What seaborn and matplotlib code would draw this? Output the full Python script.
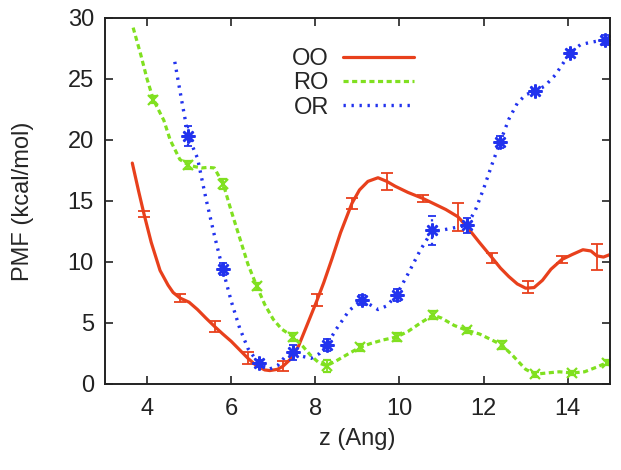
import matplotlib
matplotlib.use("Agg")
import matplotlib.pyplot as plt
import seaborn as sns
from matplotlib.lines import Line2D

# smooth PMF curves
oo_x = [3.65, 3.8, 3.93, 4.1, 4.31, 4.5, 4.62, 4.78, 5.0, 5.2, 5.4, 5.61, 5.8, 6.0, 6.2,
        6.4, 6.6, 6.8, 6.92, 7.1, 7.23, 7.4, 7.6, 7.8, 8.04, 8.2, 8.4, 8.6, 8.87, 9.05,
        9.25, 9.49, 9.7, 9.9, 10.2, 10.56, 10.8, 11.1, 11.39, 11.6, 11.9, 12.2, 12.4,
        12.6, 12.8, 13.0, 13.2, 13.4, 13.6, 13.86, 14.1, 14.36, 14.55, 14.69, 14.85, 15.0]
oo_y = [18.1, 15.8, 13.9, 11.6, 9.3, 8.1, 7.5, 7.05, 6.7, 6.1, 5.4, 4.7, 4.1, 3.5, 2.8,
        2.1, 1.5, 1.15, 1.1, 1.2, 1.45, 2.0, 3.1, 4.8, 6.85, 8.3, 10.3, 12.4, 14.8, 15.9,
        16.6, 16.9, 16.6, 16.2, 15.7, 15.2, 14.8, 14.3, 13.7, 12.9, 11.6, 10.35, 9.5,
        8.8, 8.2, 7.85, 7.9, 8.5, 9.4, 10.2, 10.6, 11.0, 10.9, 10.5, 10.4, 10.6]

ro_x = [3.67, 3.85, 4.0, 4.15, 4.4, 4.55, 4.78, 4.98, 5.15, 5.3, 5.45, 5.6, 5.81, 6.0,
        6.2, 6.4, 6.61, 6.8, 7.0, 7.2, 7.48, 7.7, 7.9, 8.1, 8.27, 8.5, 8.8, 9.06, 9.3,
        9.6, 9.93, 10.2, 10.5, 10.8, 11.0, 11.3, 11.6, 11.9, 12.2, 12.43, 12.7, 13.0,
        13.22, 13.5, 13.8, 14.1, 14.4, 14.7, 14.93]
ro_y = [29.2, 27.0, 25.0, 23.3, 21.6, 20.0, 18.4, 17.95, 17.8, 17.7, 17.75, 17.7, 16.4,
        14.2, 12.0, 9.8, 8.0, 6.5, 5.3, 4.5, 3.85, 3.1, 2.3, 1.7, 1.5, 1.9, 2.5, 3.0,
        3.3, 3.6, 3.85, 4.3, 5.0, 5.65, 5.4, 4.8, 4.4, 4.1, 3.6, 3.2, 2.3, 1.2, 0.8,
        0.9, 1.0, 0.9, 1.0, 1.4, 1.75]

or_x = [4.66, 4.82, 4.98, 5.2, 5.4, 5.6, 5.8, 6.0, 6.2, 6.4, 6.65, 6.9, 7.1, 7.3, 7.47,
        7.65, 7.9, 8.1, 8.27, 8.5, 8.8, 9.1, 9.3, 9.49, 9.7, 9.93, 10.2, 10.5, 10.77,
        11.0, 11.3, 11.6, 11.8, 12.0, 12.2, 12.39, 12.6, 12.8, 13.0, 13.22, 13.45, 13.7,
        14.05, 14.3, 14.55, 14.88, 15.0]
or_y = [26.4, 23.3, 20.3, 18.5, 15.2, 12.2, 9.4, 6.8, 4.6, 2.9, 1.7, 1.2, 1.5, 2.3, 2.6,
        2.3, 2.1, 2.5, 3.2, 4.5, 6.0, 6.9, 6.5, 6.1, 6.4, 7.3, 9.0, 11.0, 12.5, 12.6,
        12.8, 13.0, 14.2, 16.0, 18.0, 19.8, 21.7, 23.0, 23.7, 24.0, 24.4, 25.3, 27.1,
        27.8, 28.0, 28.2, 28.3]

# sampled points with error bars
oo_px = [3.93, 4.78, 5.61, 6.40, 7.23, 8.04, 8.87, 9.70, 10.56, 11.39, 12.20, 13.05, 13.86, 14.69]
oo_py = [13.9, 7.05, 4.7, 2.1, 1.45, 6.85, 14.8, 16.6, 15.2, 13.7, 10.35, 7.95, 10.2, 10.4]
oo_err = [0.25, 0.3, 0.45, 0.5, 0.4, 0.5, 0.45, 0.7, 0.25, 1.15, 0.4, 0.5, 0.3, 1.1]

ro_px = [4.15, 4.98, 5.81, 6.61, 7.48, 8.27, 9.06, 9.93, 10.8, 11.6, 12.43, 13.22, 14.1, 14.93]
ro_py = [23.3, 17.95, 16.4, 8.0, 3.85, 1.5, 3.0, 3.85, 5.65, 4.4, 3.2, 0.8, 0.9, 1.75]
ro_err = [0.3, 0.3, 0.4, 0.3, 0.3, 0.5, 0.3, 0.3, 0.3, 0.2, 0.3, 0.2, 0.2, 0.2]

or_px = [4.98, 5.80, 6.65, 7.47, 8.27, 9.10, 9.93, 10.77, 11.60, 12.39, 13.22, 14.05, 14.88]
or_py = [20.3, 9.4, 1.7, 2.6, 3.2, 6.9, 7.3, 12.6, 13.0, 19.8, 24.0, 27.1, 28.2]
or_err = [0.8, 0.5, 0.3, 0.6, 0.5, 0.4, 0.5, 1.2, 0.6, 0.5, 0.2, 0.3, 0.4]

names = ["OO", "RO", "OR"]
red, green, blue = "#e8401c", "#80e020", "#2233ee"
dash_ro = (0, (1.6, 1.1))
dot_or = (0, (0.7, 1.7))

sns.set_style("ticks")
plt.rcParams["font.family"] = ["Liberation Sans", "DejaVu Sans"]

fig = plt.figure(figsize=(6.21, 4.70), dpi=100)
ax = fig.add_axes([0.169, 0.183, 0.813, 0.779])

sns.lineplot(x=oo_x, y=oo_y, ax=ax, sort=False, color=red, lw=2.3)
sns.lineplot(x=ro_x, y=ro_y, ax=ax, sort=False, color=green, lw=2.3, linestyle=dash_ro)
sns.lineplot(x=or_x, y=or_y, ax=ax, sort=False, color=blue, lw=2.4, linestyle=dot_or)

ax.errorbar(oo_px, oo_py, yerr=oo_err, fmt="none", ecolor=red, elinewidth=1.3,
            capsize=4.5, capthick=1.3)
ax.errorbar(ro_px, ro_py, yerr=ro_err, fmt="x", color=green, ms=7, mew=1.6,
            elinewidth=1.3, capsize=3, capthick=1.3)
eb3 = ax.errorbar(or_px, or_py, yerr=or_err, fmt="none", ecolor=blue, elinewidth=1.6,
                  capsize=3, capthick=1.3)
eb3[2][0].set_linestyle(":")
ax.plot(or_px, or_py, ls="none", marker=(8, 2, 0), color=blue, ms=10, mew=1.8)

ax.set_xlim(3, 15)
ax.set_ylim(0, 30)
ax.set_xticks([4, 6, 8, 10, 12, 14])
ax.set_yticks([0, 5, 10, 15, 20, 25, 30])
ax.tick_params(direction="in", length=6, width=1.2, labelsize=17, top=True, right=True,
               colors="#222222")
ax.tick_params(axis="x", pad=10)
ax.tick_params(axis="y", pad=8)
for s in ax.spines.values():
    s.set_linewidth(1.4)
    s.set_color("#222222")
ax.set_xlabel("z (Ang)", fontsize=17, labelpad=6)
ax.set_ylabel("PMF (kcal/mol)", fontsize=17, labelpad=24)

handles = [Line2D([], [], color=red, lw=2.3),
           Line2D([], [], color=green, lw=2.3, linestyle=dash_ro),
           Line2D([], [], color=blue, lw=2.4, linestyle=dot_or)]
ax.legend(handles, names, loc="upper right", bbox_to_anchor=(0.612, 0.918),
          frameon=False, markerfirst=False, fontsize=17, handlelength=3.0,
          handletextpad=0.6, labelspacing=0.1, borderpad=0, borderaxespad=0)

fig.savefig("out.png", dpi=100)
